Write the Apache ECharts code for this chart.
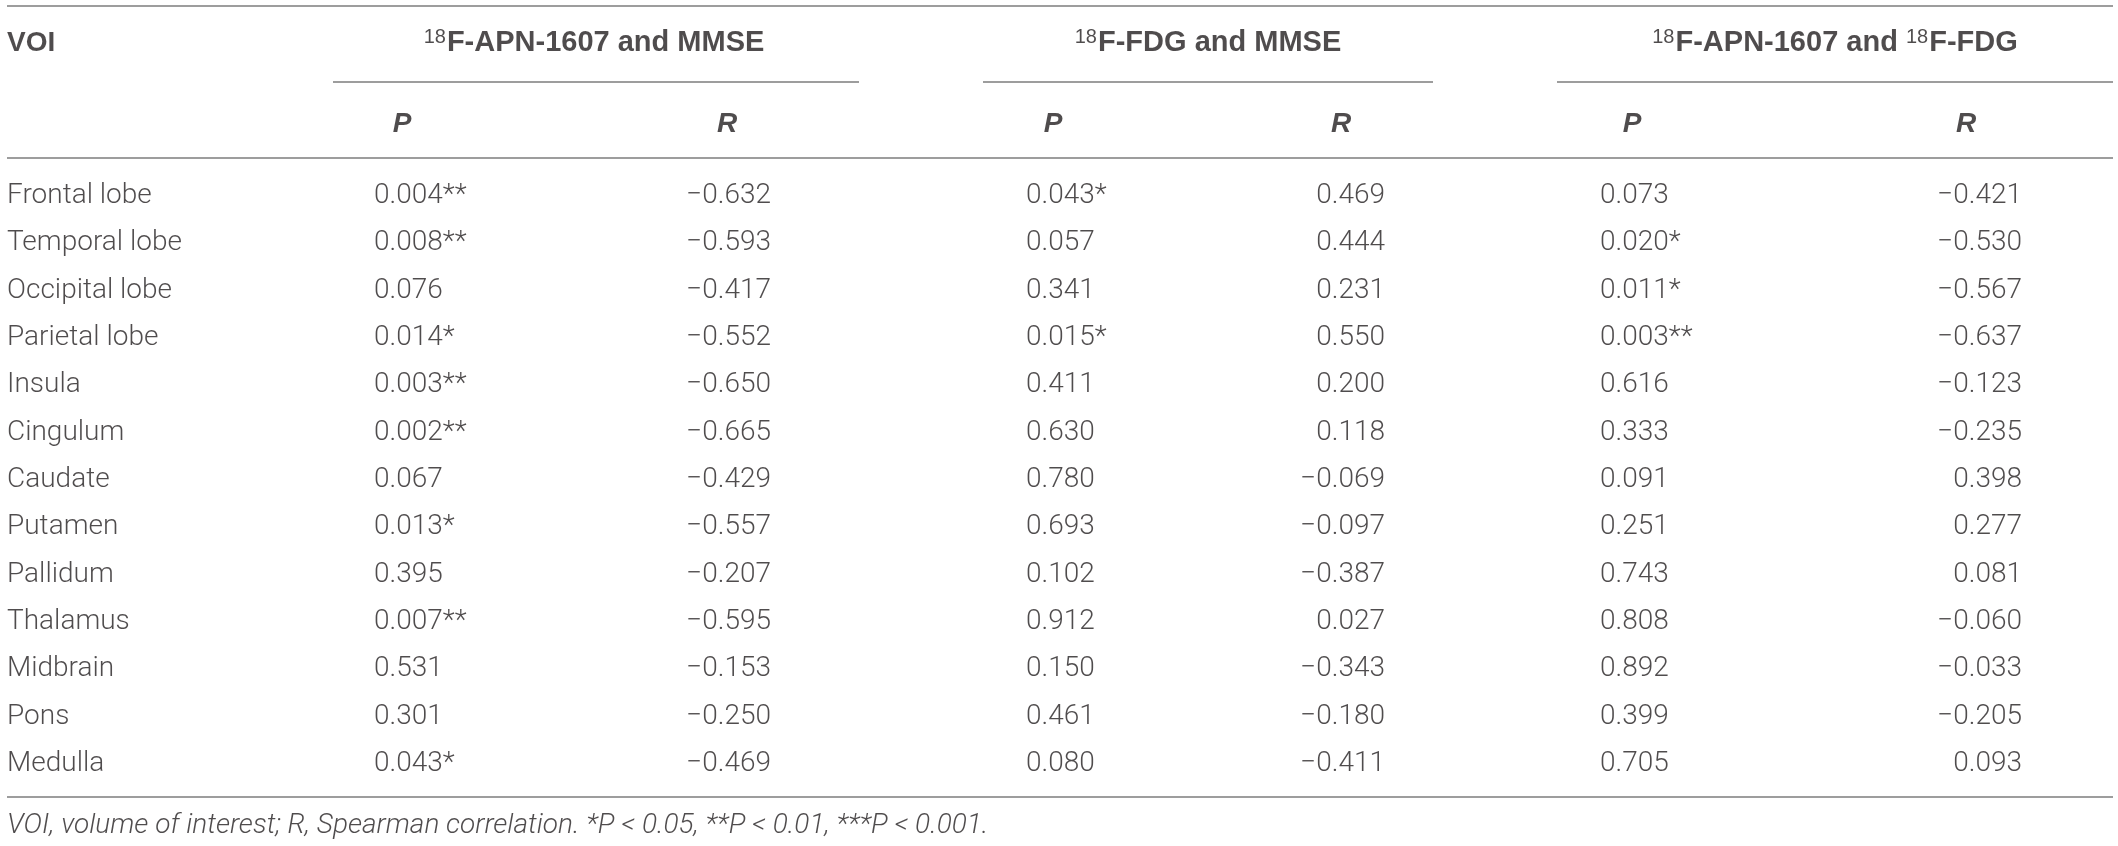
<!DOCTYPE html>
<html>
<head>
<meta charset="utf-8">
<script src="https://cdn.jsdelivr.net/npm/echarts@6/dist/echarts.min.js"></script>
<style>
html,body{margin:0;padding:0;background:#fff;}
#chart{width:2118px;height:846px;}
</style>
</head>
<body>
<div id="chart"></div>
<script>
// ---------- data ----------
const voi = ['Frontal lobe','Temporal lobe','Occipital lobe','Parietal lobe','Insula','Cingulum','Caudate','Putamen','Pallidum','Thalamus','Midbrain','Pons','Medulla'];
const apnMmseP = ['0.004**','0.008**','0.076','0.014*','0.003**','0.002**','0.067','0.013*','0.395','0.007**','0.531','0.301','0.043*'];
const apnMmseR = ['\u22120.632','\u22120.593','\u22120.417','\u22120.552','\u22120.650','\u22120.665','\u22120.429','\u22120.557','\u22120.207','\u22120.595','\u22120.153','\u22120.250','\u22120.469'];
const fdgMmseP = ['0.043*','0.057','0.341','0.015*','0.411','0.630','0.780','0.693','0.102','0.912','0.150','0.461','0.080'];
const fdgMmseR = ['0.469','0.444','0.231','0.550','0.200','0.118','\u22120.069','\u22120.097','\u22120.387','0.027','\u22120.343','\u22120.180','\u22120.411'];
const apnFdgP = ['0.073','0.020*','0.011*','0.003**','0.616','0.333','0.091','0.251','0.743','0.808','0.892','0.399','0.705'];
const apnFdgR = ['\u22120.421','\u22120.530','\u22120.567','\u22120.637','\u22120.123','\u22120.235','0.398','0.277','0.081','\u22120.060','\u22120.033','\u22120.205','0.093'];
const firstHeader = 'VOI';
const groupTitles = [
  ['18', 'F-APN-1607 and MMSE'],
  ['18', 'F-FDG and MMSE'],
  ['18', 'F-APN-1607 and ', '18', 'F-FDG']
];
const subHeaders = ['P', 'R'];
const footnote = 'VOI, volume of interest; R, Spearman correlation. *P < 0.05, **P < 0.01, ***P < 0.001.';

// ---------- layout ----------
const W = 2118, H = 846;
const firstRowY = 196, rowStep = 47.33;
const columns = [
  {x: 7,    align: 'left',  values: voi},
  {x: 374,  align: 'left',  values: apnMmseP},
  {x: 771,  align: 'right', values: apnMmseR},
  {x: 1026, align: 'left',  values: fdgMmseP},
  {x: 1385, align: 'right', values: fdgMmseR},
  {x: 1600, align: 'left',  values: apnFdgP},
  {x: 2022, align: 'right', values: apnFdgR}
];
const groupCenters = [594, 1208, 1835];
const subHeaderX = [402, 727, 1053, 1341, 1632, 1966];
const groupLines = [[333, 859], [983, 1433], [1557, 2113]];
const fullLine = [7, 2113];
const lineY = {top: 6, group: 82, head: 158, bottom: 797};
const titleY = 43, subY = 124, footY = 826;

const textColor = '#231f20';
const lineColor = '#7d7d7d';
const bodyFont = {fontFamily: 'Roboto', fontWeight: 300, fontSize: 28, color: textColor};
const boldFont = {fontFamily: 'Liberation Sans', fontWeight: 'bold', fontSize: 28, color: textColor};

function textSeries(points, labelStyle) {
  return {
    type: 'scatter',
    symbolSize: 0,
    silent: true,
    data: points,
    label: Object.assign({
      show: true,
      position: 'inside',
      verticalAlign: 'middle',
      formatter: p => p.data[2]
    }, labelStyle),
    emphasis: {disabled: true}
  };
}

const series = [];
// body cells
columns.forEach(col => {
  series.push(textSeries(
    col.values.map((v, i) => [col.x, firstRowY + i * rowStep, v]),
    Object.assign({align: col.align}, bodyFont)
  ));
});
// VOI header
series.push(textSeries([[7, titleY, firstHeader]], Object.assign({align: 'left'}, boldFont)));
// group titles (rich text with superscripts)
series.push(textSeries(
  groupTitles.map((parts, g) => [groupCenters[g], titleY, parts.map((t, k) => (k % 2 === 0 ? '{sup|' : '{main|') + t + '}').join('')]),
  {
    align: 'center',
    rich: {
      main: Object.assign({}, boldFont, {fontSize: 29, lineHeight: 31}),
      sup: {fontFamily: 'Liberation Sans', fontWeight: 'normal', fontSize: 20, color: textColor, verticalAlign: 'top', lineHeight: 31, padding: [0, 1, 0, 0]}
    }
  }
));
// P / R sub headers
series.push(textSeries(
  subHeaderX.map((x, i) => [x, subY, subHeaders[i % 2]]),
  Object.assign({align: 'center', fontStyle: 'italic'}, boldFont)
));
// footnote
series.push(textSeries([[7, footY, footnote]], Object.assign({align: 'left', fontStyle: 'italic'}, bodyFont)));

// rules
const rules = [
  [fullLine[0], fullLine[1], lineY.top],
  ...groupLines.map(g => [g[0], g[1], lineY.group]),
  [fullLine[0], fullLine[1], lineY.head],
  [fullLine[0], fullLine[1], lineY.bottom]
];
series.push({
  type: 'lines',
  coordinateSystem: 'cartesian2d',
  silent: true,
  lineStyle: {color: lineColor, width: 1.5, opacity: 1},
  data: rules.map(r => ({coords: [[r[0], r[2]], [r[1], r[2]]]}))
});

const chart = echarts.init(document.getElementById('chart'), null, {renderer: 'canvas'});
chart.setOption({
  animation: false,
  backgroundColor: '#ffffff',
  grid: {left: 0, right: 0, top: 0, bottom: 0},
  xAxis: {type: 'value', min: 0, max: W, show: false},
  yAxis: {type: 'value', min: 0, max: H, inverse: true, show: false},
  series: series
});
</script>
</body>
</html>
